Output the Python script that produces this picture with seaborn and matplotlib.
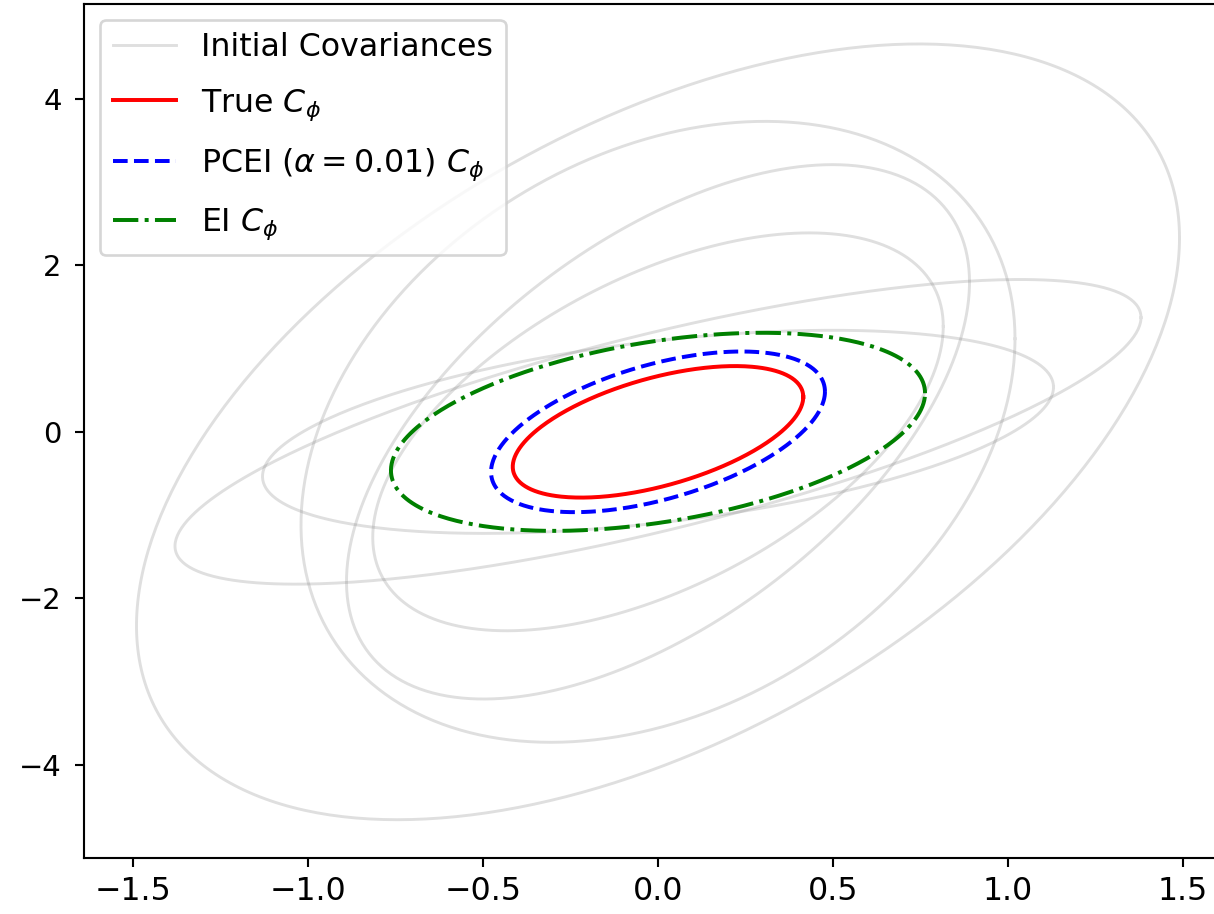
import numpy as np
import pandas as pd
import matplotlib
matplotlib.use("Agg")
import matplotlib.pyplot as plt
import seaborn as sns

# Ellipse parameters (std-x extent, std-y extent, correlation)
init_sx = [1.49, 1.02, 0.89, 0.815, 1.38, 1.13]
init_sy = [4.66, 3.73, 3.21, 2.39, 1.83, 1.22]
init_rho = [0.50, 0.30, 0.56, 0.53, 0.75, 0.44]

true_sx, true_sy, true_rho = 0.415, 0.79, 0.53
pcei_sx, pcei_sy, pcei_rho = 0.477, 0.965, 0.50
ei_sx, ei_sy, ei_rho = 0.763, 1.19, 0.39

x_ticks = [-1.5, -1.0, -0.5, 0.0, 0.5, 1.0, 1.5]
y_ticks = [-4, -2, 0, 2, 4]

labels = ["Initial Covariances", r"True $C_\phi$",
          r"PCEI ($\alpha = 0.01$) $C_\phi$", r"EI $C_\phi$"]

t = np.linspace(0, 2 * np.pi, 400)


def ellipse(sx, sy, rho):
    x = sx * np.cos(t)
    y = sy * (rho * np.cos(t) + np.sqrt(1 - rho ** 2) * np.sin(t))
    return pd.DataFrame({"x": x, "y": y})


fig = plt.figure(figsize=(1214 / 190, 914 / 190), dpi=190)
ax = fig.add_axes([84 / 1214, 56 / 914, 1148 / 1214, 854 / 914])

for i, (sx, sy, r) in enumerate(zip(init_sx, init_sy, init_rho)):
    d = ellipse(sx, sy, r)
    sns.lineplot(data=d, x="x", y="y", sort=False, estimator=None, ax=ax,
                 color="gray", alpha=0.25, lw=1.1,
                 label=labels[0] if i == 0 else None)

d = ellipse(true_sx, true_sy, true_rho)
sns.lineplot(data=d, x="x", y="y", sort=False, estimator=None, ax=ax,
             color="red", lw=1.5, label=labels[1])
d = ellipse(pcei_sx, pcei_sy, pcei_rho)
sns.lineplot(data=d, x="x", y="y", sort=False, estimator=None, ax=ax,
             color="blue", lw=1.5, linestyle="--", label=labels[2])
d = ellipse(ei_sx, ei_sy, ei_rho)
sns.lineplot(data=d, x="x", y="y", sort=False, estimator=None, ax=ax,
             color="green", lw=1.5, linestyle="-.", label=labels[3])

ax.set_xlim(-1.64, 1.64)
ax.set_ylim(-5.12, 5.14)
ax.set_xticks(x_ticks)
ax.set_yticks(y_ticks)
ax.tick_params(axis="x", labelsize=12)
ax.tick_params(axis="y", labelsize=11, pad=5)
ax.set_xlabel("")
ax.set_ylabel("")
ax.legend(loc="upper left", fontsize=12, labelspacing=0.75)

fig.savefig("out.png", dpi=190)
